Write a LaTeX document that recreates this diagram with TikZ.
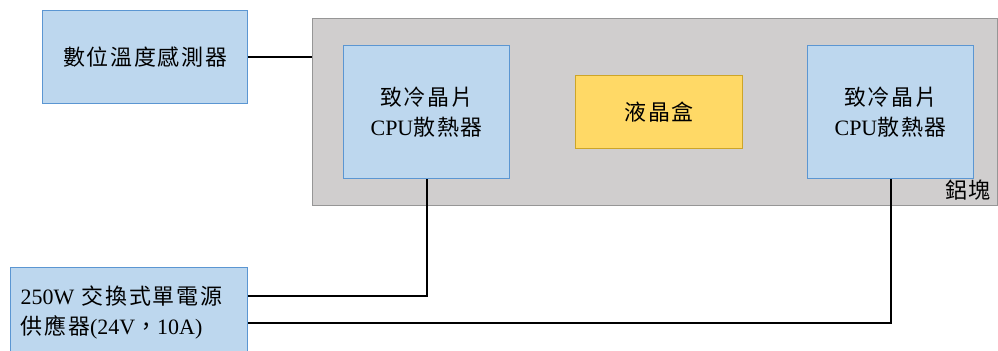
\documentclass[tikz,border=0pt]{standalone}
\usepackage{fontspec}
\setmainfont{Liberation Serif}
\newfontfamily\cjk[LetterSpace=8]{Noto Sans CJK TC}
\usetikzlibrary{positioning, calc}
\definecolor{boxblue}{RGB}{189,215,238}
\definecolor{lineblue}{RGB}{91,150,210}
\definecolor{alugray}{RGB}{208,206,206}
\definecolor{aluline}{RGB}{150,150,150}
\definecolor{lcdyellow}{RGB}{255,217,102}
\definecolor{lcdline}{RGB}{205,165,40}
\tikzset{
  setup/.style={
	x=0.02cm, y=-0.02cm, % one unit is one pixel, y runs downwards
	font=\fontsize{12.5}{17}\selectfont,
	every node/.style={anchor=north west, inner sep=0pt, align=center},
  },
  part/.style={draw=lineblue, thick, fill=boxblue}, % blue parts
  block/.style={draw=aluline, thick, fill=alugray}, % the aluminium block
  cell/.style={draw=lcdline, thick, fill=lcdyellow}, % the liquid crystal cell
  wire/.style={black, line width=1.2pt},
}

\begin{document}
\begin{tikzpicture}[setup]
	  \useasboundingbox (0,0) rectangle (998,351);
	  \node[block, minimum width=13.7cm, minimum height=3.74cm] (block) at (312,18) {};
	  \node[part, minimum width=4.1cm, minimum height=1.86cm] (sensor) at (42,10) {\cjk 數位溫度感測器};
	  \node[part, minimum width=3.32cm, minimum height=2.66cm] (cpuL) at (343,45) {\cjk 致冷晶片\\CPU{\cjk 散熱器}};
	  \node[cell, minimum width=3.34cm, minimum height=1.46cm] (lcd) at (575,75) {\cjk 液晶盒};
	  \node[part, minimum width=3.32cm, minimum height=2.66cm] (cpuR) at (807,45) {\cjk 致冷晶片\\CPU{\cjk 散熱器}};
	  \node[part, minimum width=4.74cm, minimum height=1.8cm, inner xsep=0.2cm, align=left, text width=4.34cm] (psu) at (10,267)
	    {250W {\cjk 交換式單電源}\\{\cjk 供應器}(24V{\cjk ，}10A)};
	  \node[anchor=south east, inner xsep=4pt, inner ysep=3pt] (alu) at (block.south east) {\cjk 鋁塊};

	  % wires
	  \coordinate (psuA) at ($(psu.north east)+(0,29)$);
	  \coordinate (psuB) at ($(psu.north east)+(0,56)$);
	  \draw[wire] (sensor.east) -- (sensor.east -| block.west);
	  \draw[wire] (cpuL.south) |- (psuA);
	  \draw[wire] (cpuR.south) |- (psuB);
\end{tikzpicture}
\end{document}
